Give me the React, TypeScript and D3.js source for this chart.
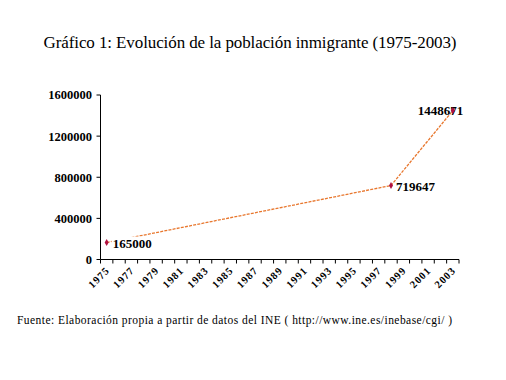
import React from "react";
import * as d3 from "d3";

const title = "Gráfico 1: Evolución de la población inmigrante (1975-2003)";
const source = "Fuente: Elaboración propia a partir de datos del INE ( http://www.ine.es/inebase/cgi/ )";

const years = [
  "1975", "1976", "1977", "1978", "1979", "1980", "1981", "1982", "1983", "1984",
  "1985", "1986", "1987", "1988", "1989", "1990", "1991", "1992", "1993", "1994",
  "1995", "1996", "1997", "1998", "1999", "2000", "2001", "2002", "2003",
];
const xTickLabels = [
  "1975", "1977", "1979", "1981", "1983", "1985", "1987", "1989",
  "1991", "1993", "1995", "1997", "1999", "2001", "2003",
];
const pointYears = ["1975", "1998", "2003"];
const pointValues = [165000, 719647, 1448671];
const yTicks = [0, 400000, 800000, 1200000, 1600000];

const W = 506;
const H = 380;
const left = 100.5;
const right = 459;
const top = 95;
const bottom = 259.5;

export default function App() {
  const x = d3.scaleBand<string>().domain(years).range([left, right]).padding(0);
  const y = d3.scaleLinear().domain([0, 1600000]).range([bottom, top]);
  const cx = (yr: string) => (x(yr) as number) + x.bandwidth() / 2;

  const pts = pointYears.map((yr, i) => ({ yr, v: pointValues[i] }));
  const line = d3
    .line<{ yr: string; v: number }>()
    .x((d) => cx(d.yr))
    .y((d) => y(d.v));

  const boundaries = years.map((yr) => x(yr) as number).concat([right]);
  const marker = d3.symbol().type(d3.symbolDiamond).size(14)();

  const serif = "'Liberation Serif', 'Times New Roman', serif";

  return (
    <svg
      width={W}
      height={H}
      style={{ position: "absolute", left: 0, top: 0, background: "#fff" }}
      fontFamily={serif}
    >
      <rect x={0} y={0} width={W} height={H} fill="#fff" />
      <text x={250} y={48} textAnchor="middle" fontSize={17} fill="#000" textLength={413} lengthAdjust="spacing">
        {title}
      </text>

      {/* y axis */}
      <line x1={left} x2={left} y1={top} y2={bottom} stroke="#000" strokeWidth={1} />
      {yTicks.map((t) => (
        <g key={t}>
          <line x1={left - 4} x2={left} y1={y(t)} y2={y(t)} stroke="#000" />
          <text x={92} y={y(t)} dy="0.35em" textAnchor="end" fontSize={12.5} fontWeight="bold" fill="#000">
            {t}
          </text>
        </g>
      ))}

      {/* x axis */}
      <line x1={left} x2={right} y1={bottom} y2={bottom} stroke="#000" strokeWidth={1} />
      {boundaries.map((b, i) => (
        <line key={i} x1={b} x2={b} y1={bottom} y2={bottom + 4} stroke="#000" />
      ))}
      {xTickLabels.map((lab) => {
        const px = cx(lab) + 1;
        const py = bottom + 9;
        return (
          <text
            key={lab}
            x={px}
            y={py}
            transform={`rotate(-45 ${px} ${py})`}
            textAnchor="end"
            fontSize={10.5}
            fontWeight="bold"
            letterSpacing={1}
            fill="#000"
            dy="0.35em"
          >
            {lab}
          </text>
        );
      })}

      {/* series */}
      <path d={line(pts) as string} fill="none" stroke="#E8772E" strokeWidth={1.3} strokeDasharray="3,1.2" />
      {pts.map((p) => (
        <path key={p.yr} d={marker as string} transform={`translate(${cx(p.yr)},${y(p.v)})`} fill="#B01040" />
      ))}

      {/* data labels */}
      <rect x={cx(pointYears[0]) + 5} y={y(pointValues[0]) - 6} width={40} height={14} fill="#fff" />
      <text x={cx(pointYears[0]) + 6} y={y(pointValues[0]) + 1} dy="0.35em" fontSize={13} fontWeight="bold" fill="#000">
        {pointValues[0]}
      </text>
      <text x={cx(pointYears[1]) + 5} y={y(pointValues[1]) + 1} dy="0.35em" fontSize={13} fontWeight="bold" fill="#000">
        {pointValues[1]}
      </text>
      <text x={cx(pointYears[2]) - 35} y={y(pointValues[2])} dy="0.35em" fontSize={13} fontWeight="bold" fill="#000">
        {pointValues[2]}
      </text>
      <path d={marker as string} transform={`translate(${cx(pointYears[2])},${y(pointValues[2])})`} fill="#B01040" />

      <text x={17} y={324} fontSize={11.5} fill="#000" textLength={435} lengthAdjust="spacing">
        {source}
      </text>
    </svg>
  );
}
